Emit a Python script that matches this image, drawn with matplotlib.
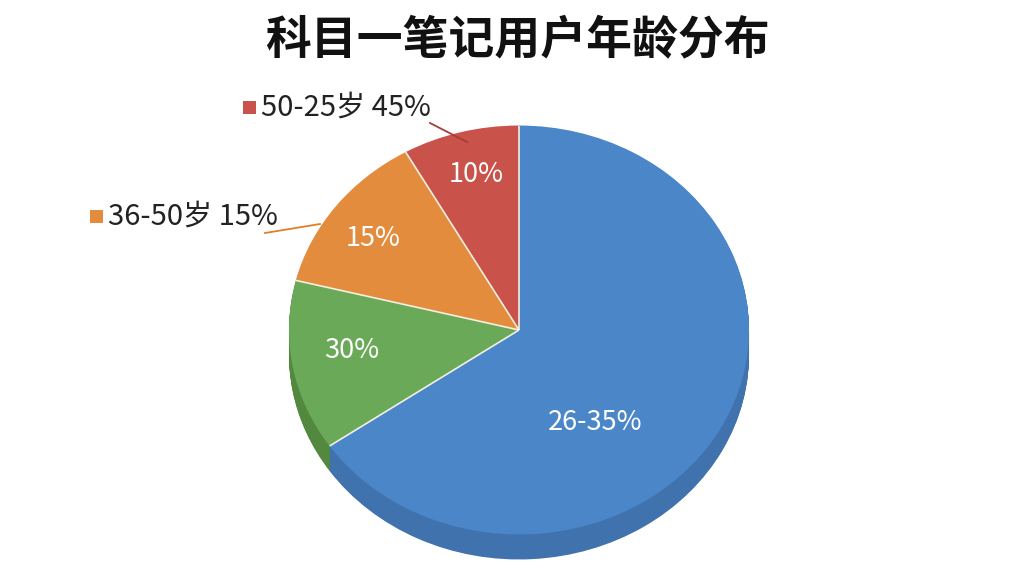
import matplotlib
matplotlib.use("Agg")
import matplotlib.pyplot as plt
from matplotlib.patches import Rectangle
import numpy as np

plt.rcParams['font.family'] = ['Noto Sans CJK SC', 'DejaVu Sans']

title = "科目一笔记用户年龄分布"
# slices counter-clockwise from top: red, orange, green, blue
values = [8.2, 12.9, 13.5, 65.4]
inner_labels = ["10%", "15%", "30%", "26-35%"]
top_colors = ["#c9524a", "#e48c3d", "#6aa957", "#4a86c8"]
side_colors = ["#a5423b", "#bb7030", "#52893f", "#4073ad"]
callouts = ["50-25岁 45%", "36-50岁 15%"]
callout_colors = ["#c9524a", "#e48c3d"]
leader_colors = ["#a63e38", "#e07f2a"]

W, H = 1024, 576
fig = plt.figure(figsize=(W / 100, H / 100), dpi=100)
fig.patch.set_facecolor("white")

squash = 0.889
ax = fig.add_axes([0, 0, 1, 1])
cx, cy_px, R = 519, 330, 230
cy = (H - cy_px) / squash
depth = 25 / squash

# side wall
n = 30
for i in range(n, 0, -1):
    ax.pie(values, colors=side_colors, startangle=90, counterclock=True,
           radius=R, center=(cx, cy - depth * i / n),
           wedgeprops=dict(linewidth=0), frame=True)
wedges, _ = ax.pie(values, colors=top_colors, startangle=90, counterclock=True,
                   radius=R, center=(cx, cy),
                   wedgeprops=dict(linewidth=0), frame=True)
# white separators between slices
for w in wedges:
    th = np.deg2rad(w.theta1)
    ax.plot([cx, cx + R * np.cos(th)], [cy, cy + R * np.sin(th)],
            color="#f4efe0", lw=1.2, solid_capstyle='butt')
ax.set_aspect('auto')
ax.set_xlim(0, W)
ax.set_ylim(0, H / squash)
ax.axis('off')

# overlay axes in pixel coords
ov = fig.add_axes([0, 0, 1, 1])
ov.set_xlim(0, W)
ov.set_ylim(H, 0)
ov.axis('off')
ov.patch.set_alpha(0)

ov.text(517, 40, title, ha='center', va='center', fontsize=33,
        fontweight='bold', color='#111111')

inner_pos = [(476, 174), (373, 239), (352, 351), (595, 423)]
for (x, y), t in zip(inner_pos, inner_labels):
    ov.text(x, y, t, ha='center', va='center', fontsize=19.5, color='white',
            fontweight='medium')

# callouts
call_pos = [(243, 108), (90, 217)]
lines = [((430, 123), (467, 142)), ((265, 233), (320, 224))]
for (x, y), t, c, lc, (p0, p1) in zip(call_pos, callouts, callout_colors,
                                      leader_colors, lines):
    ov.add_patch(Rectangle((x, y - 7), 13, 13, color=c, lw=0))
    ov.text(x + 18, y, t, ha='left', va='center', fontsize=21, color='#222222')
    ov.plot([p0[0], p1[0]], [p0[1], p1[1]], color=lc, lw=1.3)

fig.savefig("out.png", dpi=100)
